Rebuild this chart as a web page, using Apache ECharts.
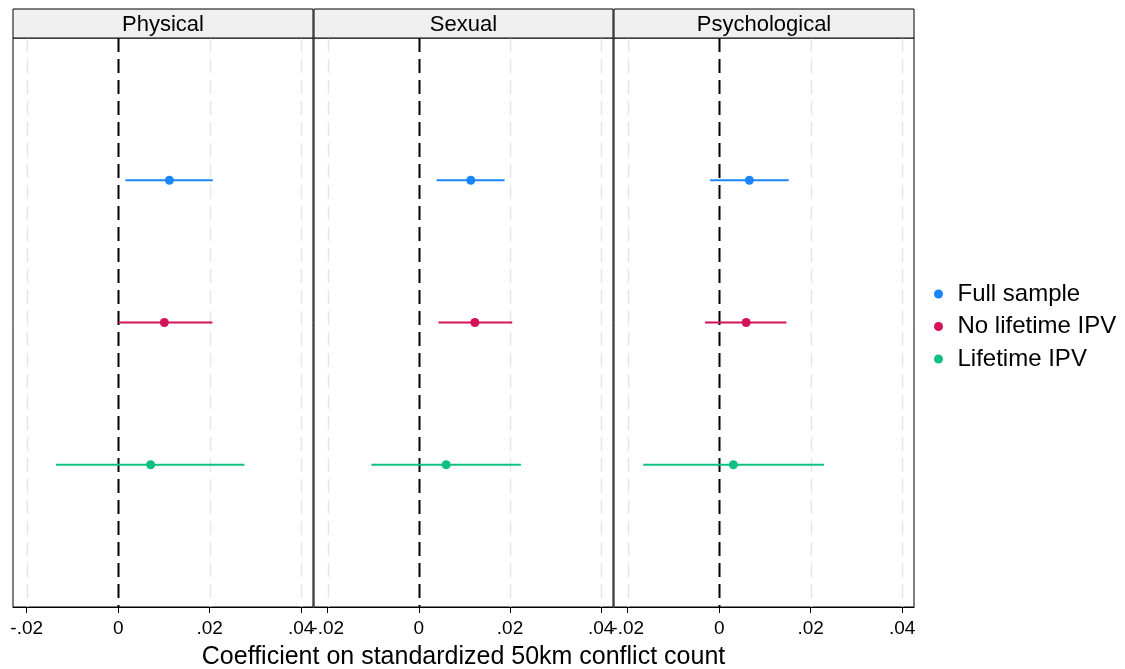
<!DOCTYPE html>
<html>
<head>
<meta charset="utf-8">
<script src="https://cdn.jsdelivr.net/npm/echarts@6/dist/echarts.min.js"></script>
<style>
html,body{margin:0;padding:0;background:#fff;}
#chart{width:1125px;height:669px;}
</style>
</head>
<body>
<div id="chart"></div>
<script>
// ---- data ----
const panels = ['Physical', 'Sexual', 'Psychological'];
const groups = ['Full sample', 'No lifetime IPV', 'Lifetime IPV'];
const groupColors = ['#1a85ff', '#d41159', '#0fc080'];
const rowPos = [1, 2, 3];
const tickValues = [-0.02, 0, 0.02, 0.04];
const tickLabels = ['-.02', '0', '.02', '.04'];
const xTitle = 'Coefficient on standardized 50km conflict count';

const estPhysical = [0.0112, 0.0101, 0.0071];
const loPhysical  = [0.0016, 0.0001, -0.0136];
const hiPhysical  = [0.0207, 0.0206, 0.0276];

const estSexual = [0.0114, 0.0123, 0.0060];
const loSexual  = [0.0039, 0.0043, -0.0104];
const hiSexual  = [0.0188, 0.0205, 0.0224];

const estPsych = [0.0066, 0.0059, 0.0031];
const loPsych  = [-0.0020, -0.0031, -0.0166];
const hiPsych  = [0.0152, 0.0147, 0.0229];

const panelData = [
  {est: estPhysical, lo: loPhysical, hi: hiPhysical},
  {est: estSexual, lo: loSexual, hi: hiSexual},
  {est: estPsych, lo: loPsych, hi: hiPsych}
];

// ---- layout ----
const FONT = 'Liberation Sans, Arial, Helvetica, sans-serif';
const gridBoxes = [
  {left: 13, width: 300},
  {left: 314, width: 299},
  {left: 614, width: 300}
];
const plotTop = 38, plotBottomY = 607, stripTop = 9;
const xMin = -0.0230, xMax = 0.0426;

const grids = [], xAxes = [], yAxes = [], series = [], graphics = [];

gridBoxes.forEach((g, i) => {
  grids.push({
    left: g.left, width: g.width, top: plotTop, height: plotBottomY - plotTop,
    containLabel: false, outerBoundsMode: 'none',
    show: true, borderColor: '#000', borderWidth: 1, backgroundColor: '#fff'
  });
  xAxes.push({
    type: 'value', gridIndex: i, min: xMin, max: xMax,
    axisLine: {show: true, onZero: false, lineStyle: {color: '#000', width: 1}},
    splitLine: {show: false},
    axisTick: {show: true, customValues: tickValues, length: 6, lineStyle: {color: '#000', width: 1}},
    axisLabel: {
      customValues: tickValues, margin: 12, color: '#000', fontSize: 19, fontFamily: FONT,
      formatter: v => { const k = tickValues.findIndex(t => Math.abs(t - v) < 1e-9); return k >= 0 ? tickLabels[k] : ''; }
    },
    name: i === 1 ? xTitle : '',
    nameLocation: 'middle', nameGap: 38,
    nameTextStyle: {color: '#000', fontSize: 25, fontFamily: FONT}
  });
  yAxes.push({
    type: 'value', gridIndex: i, min: 0, max: 4, inverse: true,
    axisLine: {show: false}, axisTick: {show: false}, axisLabel: {show: false}, splitLine: {show: false}
  });

  // reference lines (grid lines + zero line)
  series.push({
    type: 'custom', xAxisIndex: i, yAxisIndex: i, silent: true, z: 1,
    data: tickValues.map(v => [v]),
    encode: {x: 0},
    renderItem: (params, api) => {
      const v = api.value(0);
      const p1 = api.coord([v, 0]);
      const p2 = api.coord([v, 4]);
      const isZero = Math.abs(v) < 1e-12;
      return {
        type: 'line',
        shape: {x1: Math.round(p1[0]) + 0.5, y1: p1[1], x2: Math.round(p2[0]) + 0.5, y2: p2[1]},
        style: isZero
          ? {stroke: '#000', lineWidth: 2, lineDash: [14, 7]}
          : {stroke: '#e6e6e6', lineWidth: 1.5, lineDash: [14, 7]}
      };
    }
  });

  // estimates with CIs
  const pd = panelData[i];
  groups.forEach((name, gi) => {
    const col = groupColors[gi];
    series.push({
      type: 'custom', name: name, xAxisIndex: i, yAxisIndex: i, z: 5,
      itemStyle: {color: col},
      data: [[pd.lo[gi], pd.hi[gi], pd.est[gi], rowPos[gi]]],
      encode: {x: [0, 1, 2], y: 3},
      renderItem: (params, api) => {
        const y = api.value(3);
        const a = api.coord([api.value(0), y]);
        const b = api.coord([api.value(1), y]);
        const c = api.coord([api.value(2), y]);
        return {
          type: 'group',
          children: [
            {type: 'line', shape: {x1: a[0], y1: a[1], x2: b[0], y2: b[1]}, style: {stroke: col, lineWidth: 2}},
            {type: 'circle', shape: {cx: c[0], cy: c[1], r: 4.5}, style: {fill: col}}
          ]
        };
      }
    });
  });

  // strip header
  graphics.push({
    type: 'rect', z: 10,
    shape: {x: g.left, y: stripTop, width: g.width, height: plotTop - stripTop},
    style: {fill: '#f0f0f0', stroke: '#000', lineWidth: 1}
  });
  graphics.push({
    type: 'text', z: 11,
    x: g.left + g.width / 2, y: (stripTop + plotTop) / 2 + 1,
    style: {text: panels[i], fill: '#000', font: '22px ' + FONT, textAlign: 'center', textVerticalAlign: 'middle'}
  });
});

const chart = echarts.init(document.getElementById('chart'), null, {renderer: 'canvas'});
chart.setOption({
  animation: false,
  backgroundColor: '#fff',
  grid: grids,
  xAxis: xAxes,
  yAxis: yAxes,
  legend: {
    data: groups.map((g, gi) => ({name: g, icon: 'circle', itemStyle: {color: groupColors[gi]}})),
    orient: 'vertical', left: 929, top: 277,
    itemWidth: 28, itemHeight: 9, itemGap: 8.5,
    selectedMode: false,
    textStyle: {color: '#000', fontSize: 24, fontFamily: FONT, lineHeight: 24}
  },
  graphic: graphics,
  series: series
});
</script>
</body>
</html>
